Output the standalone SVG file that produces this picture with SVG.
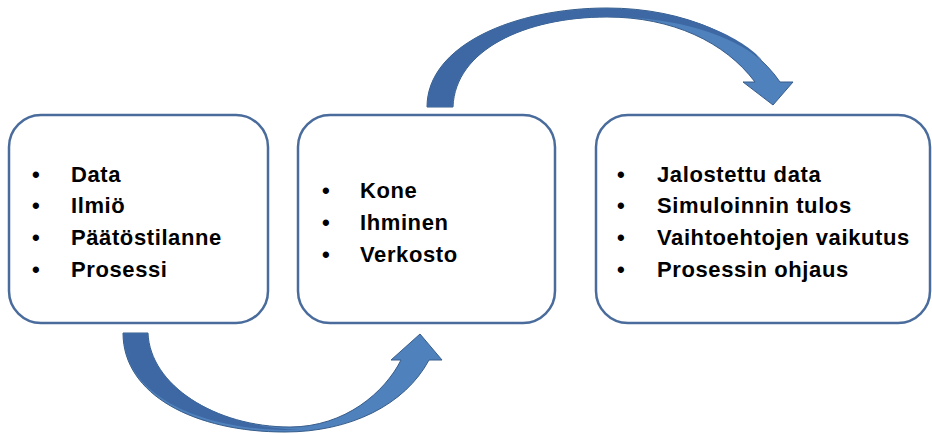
<svg xmlns="http://www.w3.org/2000/svg" width="932" height="434" viewBox="0 0 932 434">
<style>
.box{fill:#ffffff;stroke:#4a6c9c;stroke-width:2.5}
.t{font-family:"Liberation Sans",Arial,sans-serif;font-weight:bold;font-size:22px;letter-spacing:0.6px;fill:#000}
.arr{fill:#4f81bd;stroke:#385d8a;stroke-width:1}
.dark{fill:#3d68a3;stroke:none}
</style>
<g id="connectors">
<g id="arrow-bottom">
<path class="arr" d="M123 333 L148 333 C150 385 215 427 290 427 C345 427 385 392 401 360 L391 360 L420 334 L442 360 L429 360 C405 405 350 432 285 432 C195 432 123 395 123 333 Z"/>
<path class="dark" d="M123.5 333.5 L147.5 333.5 C150 385 215 427 300 430 C200 432 123.5 395 123.5 333.5 Z"/>
</g>
<g id="arrow-top">
<path class="arr" d="M427 107 C427 45 515 8 607 8 C685 8 750 38 780 82 L793 82 L773 105 L743 82 L755 82 C725 42 672 17 607 17 C525 17 455 50 453 107 Z"/>
<path class="dark" d="M427.5 106.5 C427.5 45 515 8.5 607 8.5 C690 9 745 40 762 60 C730 35 680 17 607 17 C525 17 455 50 452.5 106.5 Z"/>
</g>
</g>
<g id="node-1">
<rect class="box" x="9" y="115" width="259" height="208" rx="32"/>
<text class="t"><tspan x="32" y="182">•</tspan><tspan x="71" y="182">Data</tspan></text>
<text class="t"><tspan x="32" y="213">•</tspan><tspan x="71" y="213">Ilmiö</tspan></text>
<text class="t"><tspan x="32" y="245">•</tspan><tspan x="71" y="245">Päätöstilanne</tspan></text>
<text class="t"><tspan x="32" y="277">•</tspan><tspan x="71" y="277">Prosessi</tspan></text>
</g>
<g id="node-2">
<rect class="box" x="298" y="115" width="257" height="208" rx="32"/>
<text class="t"><tspan x="322" y="198">•</tspan><tspan x="360" y="198">Kone</tspan></text>
<text class="t"><tspan x="322" y="230">•</tspan><tspan x="360" y="230">Ihminen</tspan></text>
<text class="t"><tspan x="322" y="262">•</tspan><tspan x="360" y="262">Verkosto</tspan></text>
</g>
<g id="node-3">
<rect class="box" x="596" y="115" width="334" height="208" rx="32"/>
<text class="t"><tspan x="617" y="182">•</tspan><tspan x="657" y="182">Jalostettu data</tspan></text>
<text class="t"><tspan x="617" y="213">•</tspan><tspan x="657" y="213">Simuloinnin tulos</tspan></text>
<text class="t"><tspan x="617" y="245">•</tspan><tspan x="657" y="245">Vaihtoehtojen vaikutus</tspan></text>
<text class="t"><tspan x="617" y="277">•</tspan><tspan x="657" y="277">Prosessin ohjaus</tspan></text>
</g>
</svg>
